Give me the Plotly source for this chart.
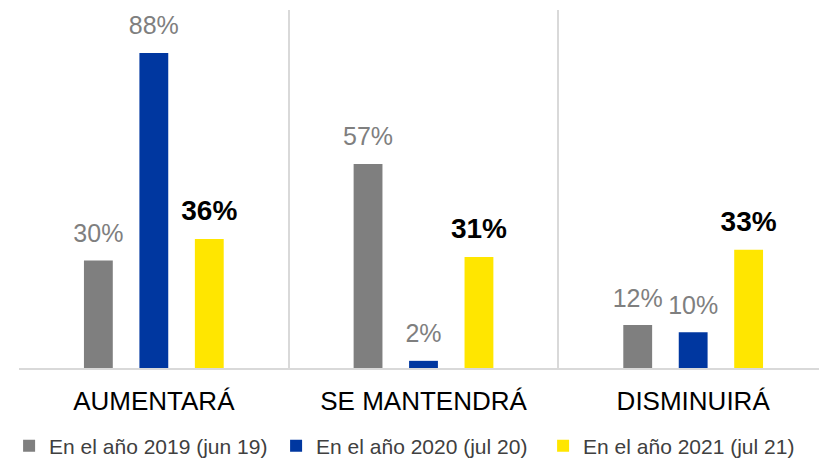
import plotly.graph_objects as go

categories = ["AUMENTARÁ", "SE MANTENDRÁ", "DISMINUIRÁ"]
series_names = ["En el año 2019 (jun 19)", "En el año 2020 (jul 20)", "En el año 2021 (jul 21)"]
values_2019 = [30, 57, 12]
values_2020 = [88, 2, 10]
values_2021 = [36, 31, 33]

colors = ["#7f7f7f", "#0037a0", "#ffe600"]
label_colors = ["#7f7f7f", "#7f7f7f", "#000000"]
label_sizes = [25, 25, 28]
label_weights = ["normal", "normal", "bold"]

fig = go.Figure()
all_values = [values_2019, values_2020, values_2021]

for i, vals in enumerate(all_values):
    fig.add_trace(go.Bar(
        x=categories, y=vals, name=series_names[i],
        marker=dict(color=colors[i], line=dict(width=0)),
        offsetgroup=str(i),
    ))

# value labels, grouped like the bars so they sit over each bar
for i, vals in enumerate(all_values):
    fig.add_trace(go.Scatter(
        x=categories, y=vals, mode="markers+text",
        text=[f"{v}%" for v in vals],
        textposition="top center",
        textfont=dict(size=label_sizes[i], color=label_colors[i],
                      family="Arial, Liberation Sans", weight=label_weights[i]),
        marker=dict(size=18, opacity=0),
        offsetgroup=str(i), showlegend=False, hoverinfo="skip",
        cliponaxis=False,
    ))

# page body has an 8px margin, so margins are shifted to compensate
fig.update_layout(
    width=827, height=459,
    margin=dict(l=10, r=7, t=2, b=98),
    barmode="group", bargap=0.383, bargroupgap=0.48,
    scattermode="group", scattergap=0.383,
    plot_bgcolor="white", paper_bgcolor="white",
    font=dict(family="Arial, Liberation Sans", color="#000000"),
    legend=dict(
        orientation="h", x=-0.011, xanchor="left",
        y=-0.215, yanchor="middle",
        font=dict(size=21, color="#404040"),
        entrywidth=222, itemclick=False,
    ),
)
fig.update_xaxes(
    tickson="boundaries", showgrid=True, gridcolor="#d9d9d9", gridwidth=2,
    showline=True, linecolor="#d9d9d9", linewidth=2,
    ticks="", tickfont=dict(size=26, color="#000000"),
    ticklabelstandoff=9,
)
fig.update_yaxes(range=[0, 100], visible=False, showgrid=False)

fig.write_html("out.html")
